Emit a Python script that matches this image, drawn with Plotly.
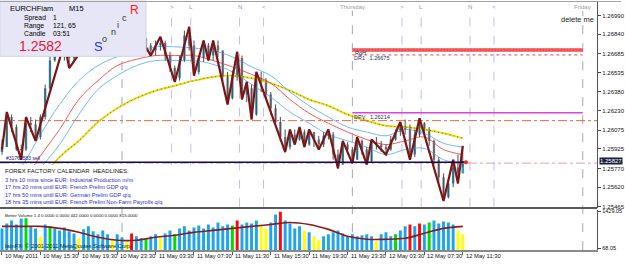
import plotly.graph_objects as go
import pandas as pd

# ------------------------------------------------------------------ data
SYMBOL = "EURCHFiam"
TIMEFRAME = "M15"
BAR_START = "2011-05-10 11:30"
BAR_STEP = "30min"

FIRST_OPEN = 1.2590
CLOSE = [1.2594, 1.2618, 1.2610, 1.2592, 1.2592, 1.2613, 1.2612, 1.2602, 1.2618, 1.2641,
         1.2663, 1.2671, 1.2667, 1.2674, 1.2665, 1.2673, 1.2677, 1.2681, 1.2675, 1.2683,
         1.2685, 1.2679, 1.2675, 1.2673, 1.2679, 1.2674, 1.2671, 1.2679, 1.2683, 1.2681,
         1.2675, 1.2671, 1.2675, 1.2677, 1.2667, 1.2657, 1.2649, 1.2663, 1.2683, 1.2675,
         1.2654, 1.2665, 1.2675, 1.2667, 1.2675, 1.2671, 1.2651, 1.2633, 1.2651, 1.2665,
         1.2636, 1.2641, 1.2620, 1.2649, 1.2647, 1.2636, 1.2625, 1.2614, 1.2602, 1.2594,
         1.2604, 1.2600, 1.2606, 1.2596, 1.2606, 1.2600, 1.2596, 1.2603, 1.2604, 1.2588,
         1.2580, 1.2596, 1.2592, 1.2584, 1.2599, 1.2592, 1.2583, 1.2598, 1.2596, 1.2594,
         1.2592, 1.2600, 1.2606, 1.2610, 1.2608, 1.2588, 1.2604, 1.2613, 1.2608, 1.2599,
         1.2584, 1.2570, 1.2554, 1.2565, 1.2578, 1.2573, 1.2583]
HIGH = [1.2600, 1.2622, 1.2620, 1.2612, 1.2596, 1.2618, 1.2618, 1.2616, 1.2620, 1.2644,
        1.2667, 1.2675, 1.2674, 1.2677, 1.2676, 1.2679, 1.2682, 1.2685, 1.2683, 1.2689,
        1.2690, 1.2687, 1.2682, 1.2679, 1.2683, 1.2681, 1.2677, 1.2682, 1.2687, 1.2685,
        1.2681, 1.2677, 1.2679, 1.2682, 1.2679, 1.2670, 1.2659, 1.2667, 1.2687, 1.2690,
        1.2679, 1.2667, 1.2679, 1.2677, 1.2679, 1.2679, 1.2671, 1.2654, 1.2655, 1.2670,
        1.2667, 1.2646, 1.2644, 1.2654, 1.2654, 1.2649, 1.2638, 1.2628, 1.2618, 1.2608,
        1.2608, 1.2608, 1.2610, 1.2608, 1.2608, 1.2606, 1.2603, 1.2606, 1.2608, 1.2606,
        1.2592, 1.2599, 1.2598, 1.2594, 1.2602, 1.2600, 1.2594, 1.2600, 1.2602, 1.2599,
        1.2596, 1.2603, 1.2608, 1.2614, 1.2616, 1.2612, 1.2608, 1.2617, 1.2614, 1.2610,
        1.2600, 1.2586, 1.2573, 1.2569, 1.2584, 1.2588, 1.2595]
LOW = [1.2588, 1.2594, 1.2606, 1.2591, 1.2584, 1.2591, 1.2606, 1.2599, 1.2600, 1.2616,
       1.2640, 1.2662, 1.2662, 1.2663, 1.2657, 1.2662, 1.2671, 1.2674, 1.2671, 1.2673,
       1.2679, 1.2675, 1.2671, 1.2670, 1.2671, 1.2670, 1.2669, 1.2671, 1.2676, 1.2675,
       1.2670, 1.2667, 1.2667, 1.2671, 1.2663, 1.2654, 1.2646, 1.2647, 1.2662, 1.2671,
       1.2651, 1.2652, 1.2662, 1.2663, 1.2663, 1.2666, 1.2647, 1.2628, 1.2632, 1.2647,
       1.2632, 1.2630, 1.2616, 1.2619, 1.2638, 1.2632, 1.2620, 1.2610, 1.2599, 1.2590,
       1.2592, 1.2596, 1.2599, 1.2594, 1.2595, 1.2594, 1.2592, 1.2594, 1.2600, 1.2584,
       1.2577, 1.2580, 1.2588, 1.2581, 1.2584, 1.2588, 1.2580, 1.2582, 1.2592, 1.2590,
       1.2588, 1.2591, 1.2599, 1.2603, 1.2604, 1.2584, 1.2586, 1.2602, 1.2605, 1.2595,
       1.2580, 1.2565, 1.2551, 1.2553, 1.2562, 1.2565, 1.2578]

VOLUME = [800, 990, 1100, 950, 1170, 1180, 880, 800, 500, 950,
          880, 800, 730, 840, 700, 620, 440, 770, 880, 700,
          585, 730, 585, 366, 585, 475, 290, 620, 510, 440,
          400, 510, 585, 440, 620, 730, 585, 800, 880, 730,
          840, 915, 800, 950, 840, 1025, 880, 950, 915, 1100,
          950, 1025, 990, 1100, 950, 800, 1025, 1320, 1420, 1100,
          990, 800, 880, 730, 660, 510, 366, 510, 585, 660,
          730, 620, 510, 585, 510, 550, 585, 510, 330, 585,
          660, 510, 585, 730, 880, 950, 880, 990, 950, 1025,
          1100, 990, 1060, 1025, 950, 730, 585]
VOLUME_CLASS = ("BBBBBGBBYB" "GBBBBBYBBB" "BBBYBBYRBB" "GBBYBBGBBB" "BBBBBBBBGR"
                "BBBBYYBBRB" "BBBYBYYBBB" "BBBBBBBBYB" "BBGBBRBRBG" "BBBBBYY")

# ZigZag swing points: bar index, price
ZZ_BARS = [0, 1, 4, 5, 7, 13, 14, 20, 26, 28, 31, 33, 36, 39, 40, 42, 43, 44, 47, 49,
           50, 51, 52, 53, 59, 60, 61, 62, 63, 64, 66, 68, 70, 71, 73, 74, 76, 77, 80, 83,
           85, 87, 92, 94, 95, 96]
ZZ_PRICE = [1.2592, 1.2622, 1.2584, 1.2618, 1.2599, 1.2677, 1.2657, 1.2690, 1.2669, 1.2687,
            1.2667, 1.2682, 1.2646, 1.2690, 1.2651, 1.2679, 1.2663, 1.2679, 1.2628, 1.2670,
            1.2632, 1.2646, 1.2616, 1.2654, 1.2590, 1.2608, 1.2596, 1.2610, 1.2594, 1.2608,
            1.2592, 1.2608, 1.2577, 1.2599, 1.2581, 1.2602, 1.2580, 1.2600, 1.2588, 1.2614,
            1.2584, 1.2617, 1.2551, 1.2584, 1.2565, 1.2595]

# moving averages read every 4th bar
MA_BARS = [0, 4, 8, 12, 16, 20, 24, 28, 32, 36, 40, 44, 48, 52, 56, 60, 64, 68, 72, 76, 80, 84, 88, 92, 96]
MA_UPPER = [1.2561, 1.2578, 1.2604, 1.2628, 1.2647, 1.2659, 1.2666, 1.2670, 1.2674, 1.2674,
            1.2673, 1.2671, 1.2666, 1.2658, 1.2651, 1.2638, 1.2627, 1.2618, 1.2610, 1.2606,
            1.2603, 1.2608, 1.2605, 1.2597, 1.2594]
MA_MID = [1.2553, 1.2565, 1.2587, 1.2608, 1.2632, 1.2647, 1.2659, 1.2664, 1.2667, 1.2667,
          1.2667, 1.2663, 1.2658, 1.2652, 1.2645, 1.2632, 1.2621, 1.2613, 1.2606, 1.2600,
          1.2596, 1.2599, 1.2602, 1.2592, 1.2588]
MA_LOWER = [1.2545, 1.2557, 1.2577, 1.2596, 1.2620, 1.2640, 1.2651, 1.2659, 1.2663, 1.2663,
            1.2663, 1.2660, 1.2654, 1.2644, 1.2634, 1.2622, 1.2613, 1.2604, 1.2599, 1.2594,
            1.2588, 1.2592, 1.2593, 1.2584, 1.2580]
SLOW_BARS = [8, 12, 16, 20, 24, 28, 32, 36, 40, 44, 48, 52, 56, 60, 64, 68, 72, 76, 80, 84, 88, 92, 96]
MA_SLOW = [1.2569, 1.2586, 1.2599, 1.2614, 1.2625, 1.2633, 1.2639, 1.2643, 1.2647, 1.2650,
           1.2651, 1.2649, 1.2645, 1.2639, 1.2632, 1.2627, 1.2620, 1.2615, 1.2611, 1.2610,
           1.2608, 1.2605, 1.2601]
VOL_MA = [878, 878, 878, 805, 659, 476, 366, 366, 476, 549, 659, 732, 805, 878, 951,
          1025, 951, 768, 512, 402, 402, 439, 622, 805, 878]

# levels
LEVEL_START, LEVEL_END = "2011-05-12 00:00", "2011-05-13 00:00"
RGH = 1.26715
DR1 = 1.26675
DPV = 1.26214
DASHDOT_LEVEL = 1.26151
ORDER_PRICE = 1.25820
ORDER_END = "2011-05-12 11:50"
BID_LINE = 1.25812
BID_LABEL = "1.25827"

PRICE_TICKS = [1.26990, 1.26840, 1.26685, 1.26535, 1.26380, 1.26230, 1.26075,
               1.25925, 1.25770, 1.25620, 1.25465]
VOL_TICKS = [68.05, 1429.05]

TIME_TICKS = ["2011-05-10 11:30", "2011-05-10 15:30", "2011-05-10 19:30", "2011-05-10 23:30",
              "2011-05-11 03:30", "2011-05-11 07:30", "2011-05-11 11:30", "2011-05-11 15:30",
              "2011-05-11 19:30", "2011-05-11 23:30", "2011-05-12 03:30", "2011-05-12 07:30",
              "2011-05-12 11:30"]
TIME_LABELS = ["10 May 2011", "10 May 15:30", "10 May 19:30", "10 May 23:30", "11 May 03:30",
               "11 May 07:30", "11 May 11:30", "11 May 15:30", "11 May 19:30", "11 May 23:30",
               "12 May 03:30", "12 May 07:30", "12 May 11:30"]
DAY_TIMES = ["2011-05-11 00:00", "2011-05-12 00:00", "2011-05-13 00:00"]
DAY_LABELS = ["Wednesday", "Thursday", "Friday"]
SESSION_TIMES = ["2011-05-11 05:10", "2011-05-11 07:10", "2011-05-11 12:15", "2011-05-11 14:45",
                 "2011-05-12 05:10", "2011-05-12 07:10", "2011-05-12 12:15", "2011-05-12 14:45"]
SESSION_LABELS = [">", "L", "N", "<", ">", "L", "N", "<"]

NEWS_TITLE = "FOREX FACTORY CALENDAR  HEADLINES:"
NEWS = ["3 hrs 10 mins since EUR: Industrial Production m/m",
        "17 hrs 20 mins until EUR: French Prelim GDP q/q",
        "17 hrs 50 mins until EUR: German Prelim GDP q/q",
        "18 hrs 35 mins until EUR: French Prelim Non-Farm Payrolls q/q"]

X_RANGE = ["2011-05-10 11:17:35", "2011-05-13 01:30:00"]
P_RANGE = [1.254571, 1.271054]
V_RANGE = [0, 1500]

# ------------------------------------------------------------------ figure
W, H = 625, 264
XD = 601 / W
FONT = "Liberation Sans, Arial, sans-serif"
BAR_MS = 30 * 60 * 1000


def px(x):
    return x / W


def py(y):
    return 1 - y / H


times = pd.date_range(BAR_START, periods=len(CLOSE), freq=BAR_STEP)
opens = [FIRST_OPEN] + CLOSE[:-1]
vcol = {"B": "#1fa4ec", "Y": "#ffff00", "G": "#00dd00", "R": "#ff0a0a"}

fig = go.Figure()

# moving averages
fig.add_trace(go.Scatter(x=times[SLOW_BARS], y=MA_SLOW, mode="lines", line=dict(color="#ecdc10", width=2, shape="spline"), xaxis="x", yaxis="y"))
fig.add_trace(go.Scatter(x=times[SLOW_BARS], y=MA_SLOW, mode="lines", line=dict(color="#6e6a10", width=1, dash="1px,3px", shape="spline"), xaxis="x", yaxis="y"))
fig.add_trace(go.Scatter(x=times[MA_BARS], y=MA_UPPER, mode="lines", line=dict(color="#74b9f2", width=1, shape="spline"), xaxis="x", yaxis="y"))
fig.add_trace(go.Scatter(x=times[MA_BARS], y=MA_LOWER, mode="lines", line=dict(color="#74b9f2", width=1, shape="spline"), xaxis="x", yaxis="y"))
fig.add_trace(go.Scatter(x=times[MA_BARS], y=MA_MID, mode="lines", line=dict(color="#f25a5a", width=1, shape="spline"), xaxis="x", yaxis="y"))

# levels
fig.add_trace(go.Scatter(x=X_RANGE, y=[DASHDOT_LEVEL] * 2, mode="lines", line=dict(color="#e86a44", width=1, dash="dashdot"), xaxis="x", yaxis="y"))
fig.add_trace(go.Scatter(x=[LEVEL_START, LEVEL_END], y=[RGH] * 2, mode="lines", line=dict(color="#f04848", width=3.5), xaxis="x", yaxis="y"))
fig.add_trace(go.Scatter(x=[LEVEL_START, LEVEL_END], y=[RGH] * 2, mode="lines", line=dict(color="#ffa0a0", width=1, dash="1px,2px"), xaxis="x", yaxis="y"))
fig.add_trace(go.Scatter(x=[LEVEL_START, LEVEL_END], y=[DR1] * 2, mode="lines", line=dict(color="#e84848", width=1, dash="dot"), xaxis="x", yaxis="y"))
fig.add_trace(go.Scatter(x=[LEVEL_START, LEVEL_END], y=[DPV] * 2, mode="lines", line=dict(color="#e040e0", width=1.3), xaxis="x", yaxis="y"))
fig.add_trace(go.Scatter(x=X_RANGE, y=[BID_LINE] * 2, mode="lines", line=dict(color="#eaa0a0", width=1, dash="dashdot"), xaxis="x", yaxis="y"))

# candles: wicks + bodies
wx, wy = [], []
for t, lo, hi in zip(times, LOW, HIGH):
    wx += [t, t, None]
    wy += [lo, hi, None]
fig.add_trace(go.Scatter(x=wx, y=wy, mode="lines", line=dict(color="#4c4c56", width=1), xaxis="x", yaxis="y"))
body_base = [min(o, c) for o, c in zip(opens, CLOSE)]
body_len = [max(abs(c - o), 0.00003) for o, c in zip(opens, CLOSE)]
body_col = ["#2a9fb4" if c >= o else "#8a8a94" for o, c in zip(opens, CLOSE)]
fig.add_trace(go.Bar(x=times, y=body_len, base=body_base, width=0.5 * BAR_MS,
                     marker=dict(color=body_col, line=dict(width=0)), xaxis="x", yaxis="y"))
# zigzag
fig.add_trace(go.Scatter(x=times[ZZ_BARS], y=ZZ_PRICE, mode="lines", line=dict(color="#7e1414", width=2.2), xaxis="x", yaxis="y"))
# order line
fig.add_trace(go.Scatter(x=[X_RANGE[0], ORDER_END], y=[ORDER_PRICE] * 2, mode="lines", line=dict(color="#0a0a5a", width=1.5), xaxis="x", yaxis="y"))
fig.add_trace(go.Scatter(x=[ORDER_END], y=[ORDER_PRICE], mode="markers", marker=dict(color="#ff2020", size=4), xaxis="x", yaxis="y"))

# volume pane
fig.add_trace(go.Bar(x=times, y=VOLUME, marker=dict(color=[vcol[c] for c in VOLUME_CLASS], line=dict(width=0)),
                     width=0.62 * BAR_MS, xaxis="x2", yaxis="y2"))
fig.add_trace(go.Scatter(x=times[MA_BARS], y=VOL_MA, mode="lines", line=dict(color="#8a1c1c", width=1.6, shape="spline"), xaxis="x2", yaxis="y2"))

shapes = []
# day separators
for t in DAY_TIMES:
    shapes.append(dict(type="line", xref="x", yref="paper", x0=t, x1=t, y0=py(252), y1=py(10),
                       line=dict(color="#a8a8a8", width=1, dash="dash"), layer="below"))
for t in SESSION_TIMES:
    shapes.append(dict(type="line", xref="x", yref="paper", x0=t, x1=t, y0=py(208), y1=py(10),
                       line=dict(color="#c9bde8", width=1, dash="dash"), layer="below"))
# news backdrop, info panel
shapes.append(dict(type="rect", xref="paper", yref="paper", x0=0, x1=px(236), y0=py(208), y1=py(166),
                   fillcolor="white", line=dict(width=0), layer="above"))
shapes.append(dict(type="rect", xref="paper", yref="paper", x0=0, x1=px(147), y0=py(56), y1=1,
                   fillcolor="#e6e6f6", line=dict(color="#d4d4ea", width=1), layer="above"))
# pane separator, top border
shapes.append(dict(type="line", xref="paper", yref="paper", x0=0, x1=XD, y0=py(209.5), y1=py(209.5),
                   line=dict(color="#5a5a5a", width=2), layer="above"))
shapes.append(dict(type="line", xref="paper", yref="paper", x0=0, x1=1, y0=py(0.5), y1=py(0.5),
                   line=dict(color="#a0a0a0", width=1), layer="above"))

ann = []


def text(x, y, s, size, color="#000", xanchor="left", **kw):
    ann.append(dict(x=px(x), y=py(y), xref="paper", yref="paper", text=s, showarrow=False,
                    xanchor=xanchor, yanchor="middle", font=dict(family=FONT, size=size, color=color), **kw))


# info panel text
text(8, 8, SYMBOL, 7.5)
text(67, 8, TIMEFRAME, 7.5)
text(22, 17, "Spread", 6.8)
text(51, 17, "1", 6.8)
text(22, 25, "Range", 6.8)
text(51, 25, "121, 65", 6.8)
text(22, 33, "Candle", 6.8)
text(51, 33, "03:51", 6.8)
text(17, 46, "1.2582", 14, "#e3173e")
text(93, 46, "S", 13, "#3030f0")
text(101, 38, "o", 9, "#333")
text(110, 31, "n", 9, "#333")
text(116, 24, "i", 9, "#333")
text(121, 17, "c", 9, "#333")
text(129, 9, "R", 12, "#ff2222")

# session / day labels
for t, s in zip(SESSION_TIMES, SESSION_LABELS):
    ann.append(dict(x=t, y=py(6), xref="x", yref="paper", text=s, showarrow=False, xanchor="center",
                    yanchor="middle", font=dict(family=FONT, size=6, color="#9d80dc")))
for t, s in zip(DAY_TIMES[1:], DAY_LABELS[1:]):
    ann.append(dict(x=t, y=py(6), xref="x", yref="paper", text=s, showarrow=False, xanchor="center",
                    yanchor="middle", font=dict(family=FONT, size=6, color="#9a9a9a")))
text(600, 19, "delete me", 7.5, "#222", xanchor="right")

# level labels
text(355, 53, "RgH", 5.5, "#2a3060")
text(354, 58, "DR1   1.26675", 5.5, "#2a3060")
text(354, 117, "DPV   1.26214", 5.5, "#2a3060")
text(4, 159, "#31762583 sell", 5, "#10105a")

# news
text(3, 172, NEWS_TITLE, 6, "#111")
for i, line in enumerate(NEWS):
    text(3, 181 + 7.4 * i, line, 5.6, "#2b2bd2")

# volume pane text
text(3, 216.5, "Better Volume 1.4 0.0000 0.0000 442.0000 0.0000 0.0000 815.0000", 4.4, "#111")
text(3, 247.5, "IamFX: \u00a9 2001-2011 MetaQuotes Software Corp.", 5.8, "#222")

# bid box on price scale
ann.append(dict(x=XD, y=1.25827, xref="paper", yref="y", text=BID_LABEL, showarrow=False, xanchor="left",
                yanchor="middle", xshift=2, bgcolor="#1c1c3e", borderpad=0,
                font=dict(family=FONT, size=6, color="white")))

# time labels
for t, s in zip(TIME_TICKS, TIME_LABELS):
    ann.append(dict(x=t, y=py(258), xref="x2", yref="paper", text=s, showarrow=False, xanchor="left",
                    yanchor="middle", xshift=1, font=dict(family=FONT, size=5.8, color="#111")))

fig.update_layout(
    width=W, height=H, margin=dict(l=0, r=0, t=0, b=0),
    paper_bgcolor="white", plot_bgcolor="white", showlegend=False,
    xaxis=dict(domain=[0, XD], range=X_RANGE, type="date", anchor="y", showticklabels=False,
               showgrid=False, zeroline=False, ticks=""),
    yaxis=dict(domain=[py(209), 1], range=P_RANGE, side="right", anchor="x",
               tickvals=PRICE_TICKS, ticktext=[f"{v:.5f}" for v in PRICE_TICKS],
               ticks="outside", ticklen=3, tickcolor="#444", tickfont=dict(family=FONT, size=6, color="#111"),
               showline=True, linecolor="#555", linewidth=1, showgrid=False, zeroline=False),
    xaxis2=dict(domain=[0, XD], range=X_RANGE, type="date", matches="x", anchor="y2",
                tickvals=TIME_TICKS, ticks="outside", ticklen=3, tickcolor="#555", showticklabels=False,
                showline=True, linecolor="#8a8a8a", linewidth=1.5, showgrid=False, zeroline=False),
    yaxis2=dict(domain=[py(252), py(211)], range=V_RANGE, side="right", anchor="x2",
                tickvals=VOL_TICKS, ticktext=[f"{v:.2f}" for v in VOL_TICKS],
                ticks="outside", ticklen=3, tickcolor="#444", tickfont=dict(family=FONT, size=5.5, color="#111"),
                showline=True, linecolor="#555", linewidth=1, showgrid=False, zeroline=False),
    shapes=shapes, annotations=ann, barmode="overlay",
)

fig.write_html("out.html")
